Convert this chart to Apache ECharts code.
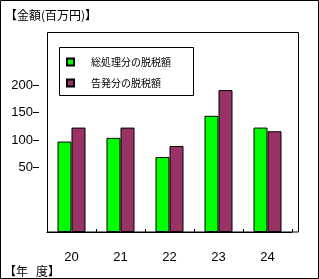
<!DOCTYPE html>
<html><head><meta charset="utf-8">
<script src="https://cdn.jsdelivr.net/npm/echarts@6/dist/echarts.min.js"></script>
<style>html,body{margin:0;padding:0;background:#fff}#c{width:319px;height:279px}</style>
</head><body><div id="c"></div>
<script>
const categories = ['20', '21', '22', '23', '24'];
const seriesNames = ['総処理分の脱税額', '告発分の脱税額'];
const totalValues = [123, 128, 102, 158, 142];
const prosecutedValues = [142, 142, 117, 193, 137];
const tickValues = [50, 100, 150, 200];
const yTitle = '【金額(百万円)】';
const xTitle = '【年   度】';

const FONT = '"Noto Sans CJK JP", "Liberation Sans", sans-serif';
const chart = echarts.init(document.getElementById('c'), null, {renderer: 'canvas'});
chart.setOption({
  animation: false,
  backgroundColor: '#fff',
  textStyle: {fontFamily: FONT},
  grid: [
    {left: 47, top: 32, width: 245, height: 200},
    {left: 39, top: 85, width: 5, height: 82.7}
  ],
  legend: {
    orient: 'vertical', left: 66, top: 53, itemGap: 3,
    itemWidth: 7, itemHeight: 7, icon: 'rect',
    padding: 0,
    textStyle: {fontSize: 10, color: '#000', fontFamily: FONT, lineHeight: 14, padding: [4, 0, 0, 12]},
    data: seriesNames
  },
  xAxis: [
    {type: 'category', gridIndex: 0, data: categories, boundaryGap: true,
     axisLine: {show: true, lineStyle: {color: '#000', width: 1}},
     axisTick: {show: true, inside: true, length: 3, lineStyle: {color: '#000'}},
     axisLabel: {color: '#000', fontSize: 13, margin: 19, fontFamily: '"Liberation Sans", sans-serif'}},
    {type: 'value', gridIndex: 1, show: false}
  ],
  yAxis: [
    {type: 'value', gridIndex: 0, min: 0, max: 272, show: false},
    {type: 'value', gridIndex: 1, min: tickValues[0], max: tickValues[tickValues.length - 1], interval: 50,
     axisLine: {show: false}, splitLine: {show: false},
     axisTick: {show: true, length: 6, lineStyle: {color: '#000'}},
     axisLabel: {color: '#000', fontSize: 13, margin: 6, fontFamily: '"Liberation Sans", sans-serif'}}
  ],
  series: [
    {name: seriesNames[0], type: 'bar', xAxisIndex: 0, yAxisIndex: 0, data: totalValues,
     barWidth: 14, barGap: '0%',
     itemStyle: {color: '#00ff00', borderColor: '#000', borderWidth: 1}},
    {name: seriesNames[1], type: 'bar', xAxisIndex: 0, yAxisIndex: 0, data: prosecutedValues,
     barWidth: 14, barGap: '0%',
     itemStyle: {color: '#993366', borderColor: '#000', borderWidth: 1}}
  ],
  graphic: [
    {type: 'rect', shape: {x: 0.5, y: 0.5, width: 318, height: 278}, style: {fill: null, stroke: '#000', lineWidth: 1}, z: 100},
    {type: 'rect', shape: {x: 47.5, y: 32.5, width: 251, height: 199.5}, style: {fill: null, stroke: '#000', lineWidth: 1}, z: 100},
    {type: 'rect', shape: {x: 59.5, y: 47.5, width: 134, height: 48}, style: {fill: '#fff', stroke: '#000', lineWidth: 1}, z: 1},
    {type: 'text', left: 5, top: 9, style: {text: yTitle, fontSize: 12, fill: '#000', fontFamily: FONT}},
    {type: 'text', left: 4, top: 265, style: {text: xTitle, fontSize: 12, fill: '#000', fontFamily: FONT}}
  ]
});
</script></body></html>
